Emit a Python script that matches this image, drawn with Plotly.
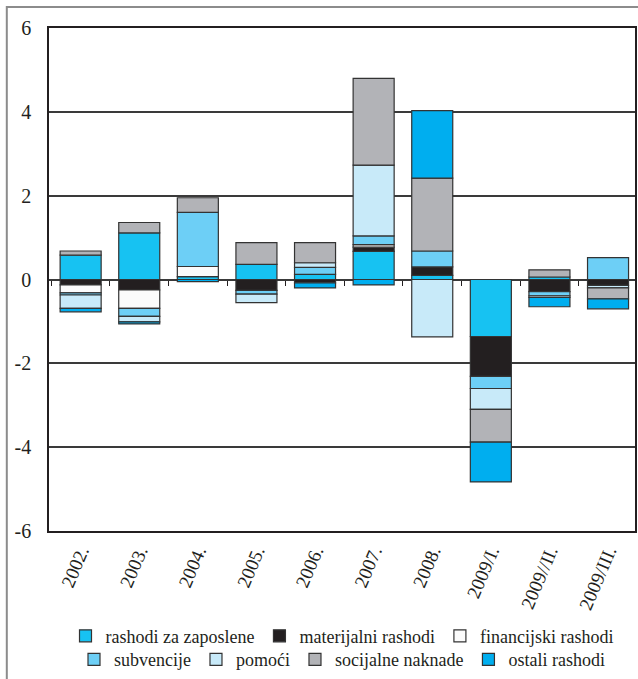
import plotly.graph_objects as go

categories = ["2002.", "2003.", "2004.", "2005.", "2006.", "2007.", "2008.",
              "2009/I.", "2009//II.", "2009/III."]

rashodi_za_zaposlene = [0.58, 1.11, 0.07, 0.36, 0.12, 0.67, 0.10, -1.36, 0.06, None]
materijalni_rashodi = [-0.13, -0.25, None, -0.26, -0.08, 0.10, 0.20, -0.95, -0.29, -0.14]
financijski_rashodi = [-0.19, -0.44, 0.24, None, None, 0.06, None, None, None, None]
subvencije = [-0.05, -0.19, 1.29, -0.09, 0.17, 0.21, 0.38, -0.29, -0.10, 0.52]
pomoci = [-0.32, -0.13, None, -0.20, 0.11, 1.69, -1.37, -0.50, -0.04, -0.06]
socijalne_naknade = [0.10, 0.25, 0.35, 0.52, 0.48, 2.07, 1.74, -0.78, 0.17, -0.26]
ostali_rashodi = [-0.08, -0.05, -0.05, None, -0.12, -0.13, 1.61, -0.95, -0.22, -0.24]

y_tick_values = [-6, -4, -2, 0, 2, 4, 6]
y_tick_labels = ["-6", "-4", "-2", "0", "2", "4", "6"]

series = [
    ("rashodi za zaposlene", rashodi_za_zaposlene, "#17C2F2", "legend"),
    ("materijalni rashodi", materijalni_rashodi, "#231F20", "legend"),
    ("financijski rashodi", financijski_rashodi, "#FBFBFB", "legend"),
    ("subvencije", subvencije, "#6DCFF6", "legend2"),
    ("pomoći", pomoci, "#C8EAF9", "legend2"),
    ("socijalne naknade", socijalne_naknade, "#B2B3B7", "legend2"),
    ("ostali rashodi", ostali_rashodi, "#00AEEF", "legend2"),
]

FONT = "Liberation Serif"

fig = go.Figure()
for name, vals, color, leg in series:
    fig.add_trace(go.Bar(
        x=categories, y=vals, name=name, legend=leg,
        marker=dict(color=color, line=dict(color="#333333", width=1.2)),
        width=0.7,
    ))

# invisible trace to carry the tick axis placed on the zero line
fig.add_trace(go.Scatter(x=categories, y=[0] * len(categories), xaxis="x2",
                         mode="lines", line=dict(width=0), opacity=0,
                         showlegend=False, hoverinfo="skip"))

fig.update_layout(
    width=638, height=679,
    barmode="relative",
    paper_bgcolor="white", plot_bgcolor="white",
    font=dict(family=FONT, color="#231F20", size=18),
    margin=dict(l=49, r=3, t=28, b=148, autoexpand=False),
    xaxis=dict(
        categoryorder="array", categoryarray=categories,
        range=[-0.54, 9.46],
        showgrid=False, ticks="", tickangle=-67,
        tickfont=dict(size=19, family=FONT),
        showline=True, mirror=True, linecolor="#231F20", linewidth=1.5,
        automargin=False, zeroline=False,
    ),
    xaxis2=dict(
        overlaying="x", anchor="free", position=0.5,
        categoryorder="array", categoryarray=categories,
        range=[-0.54, 9.46],
        showticklabels=False, ticks="outside", tickson="boundaries",
        ticklen=5, tickwidth=1.2, tickcolor="#231F20",
        showgrid=False, showline=False, zeroline=False,
    ),
    yaxis=dict(
        range=[-6, 6], tickmode="array", tickvals=y_tick_values, ticktext=y_tick_labels,
        showgrid=True, gridcolor="#3a3a3a", gridwidth=1.5,
        zeroline=True, zerolinecolor="#3a3a3a", zerolinewidth=1.5,
        showline=True, mirror=True, linecolor="#231F20", linewidth=1.5,
        ticks="", ticklabelstandoff=12,
        tickfont=dict(size=20, family=FONT),
        automargin=False,
    ),
    legend=dict(orientation="h", x=0.5, xanchor="center", y=-0.209, yanchor="middle",
                font=dict(size=18, family=FONT), bgcolor="rgba(0,0,0,0)",
                itemwidth=30, traceorder="normal"),
    legend2=dict(orientation="h", x=0.5, xanchor="center", y=-0.256, yanchor="middle",
                 font=dict(size=18, family=FONT), bgcolor="rgba(0,0,0,0)",
                 itemwidth=30, traceorder="normal"),
    shapes=[dict(type="rect", xref="paper", yref="paper",
                 x0=-0.072, x1=1.03, y0=-0.33, y1=1.0417,
                 line=dict(color="#8c8c8c", width=2), fillcolor="rgba(0,0,0,0)",
                 layer="below")],
)

fig.write_html("out.html", config={"displayModeBar": False},
               post_script="document.body.style.margin='0px';document.body.style.padding='0px';")
